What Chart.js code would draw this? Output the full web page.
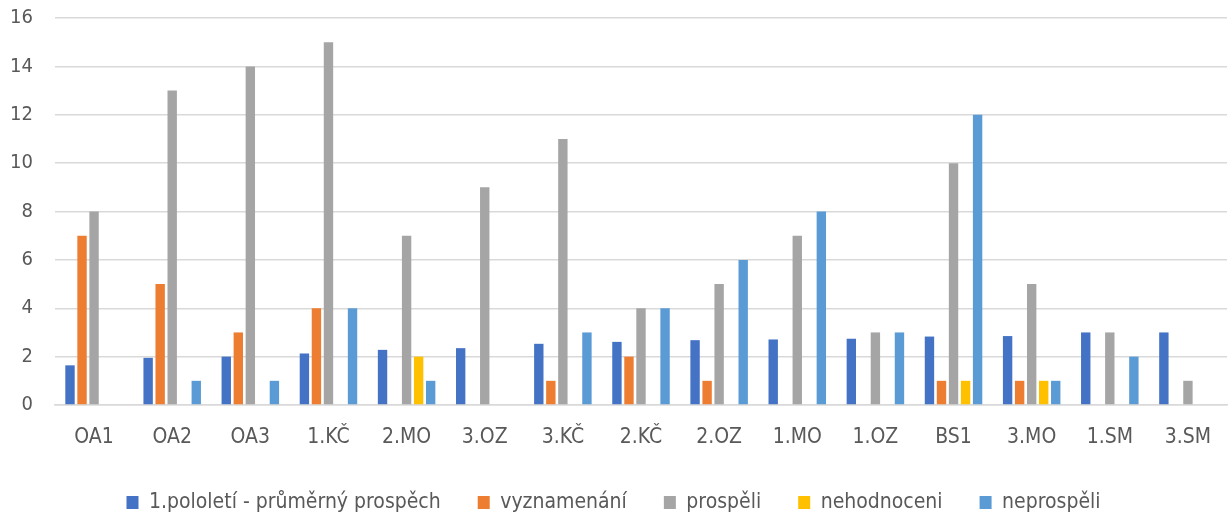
<!DOCTYPE html>
<html>
<head>
<meta charset="utf-8">
<script src="https://cdn.jsdelivr.net/npm/chart.js@4"></script>
<style>
  html, body { margin: 0; padding: 0; background: #fff; }
  #wrap { width: 1228px; height: 515px; }
</style>
</head>
<body>
<div id="wrap"><canvas id="gradesChart"></canvas></div>
<script>
const classes = ["OA1", "OA2", "OA3", "1.KČ", "2.MO", "3.OZ", "3.KČ", "2.KČ", "2.OZ", "1.MO", "1.OZ", "BS1", "3.MO", "1.SM", "3.SM"];
const averageGrade = [1.64, 1.95, 2.0, 2.13, 2.28, 2.35, 2.53, 2.61, 2.68, 2.71, 2.74, 2.83, 2.85, 3.0, 3.0];
const honours = [7, 5, 3, 4, 0, 0, 1, 2, 1, 0, 0, 1, 1, 0, 0];
const passed = [8, 13, 14, 15, 7, 9, 11, 4, 5, 7, 3, 10, 5, 3, 1];
const notGraded = [0, 0, 0, 0, 2, 0, 0, 0, 0, 0, 0, 1, 1, 0, 0];
const failed = [0, 1, 1, 4, 1, 0, 3, 4, 6, 8, 3, 12, 1, 2, 0];
const yTicks = [0, 2, 4, 6, 8, 10, 12, 14, 16];

const fontFamily = "'Liberation Sans Narrow', 'DejaVu Sans Condensed', 'Liberation Sans', sans-serif";
const textColor = "#595959";
const gridColor = "#D9D9D9";

function makeSet(label, data, color) {
    return {
        label: label,
        data: data,
        backgroundColor: color,
        borderWidth: 0,
        barPercentage: 0.78,
        categoryPercentage: 0.77
    };
}

const ctx = document.getElementById("gradesChart").getContext("2d");

new Chart(ctx, {
    type: "bar",
    data: {
        labels: classes,
        datasets: [
            makeSet("1.pololetí - průměrný prospěch", averageGrade, "#4472C4"),
            makeSet("vyznamenání", honours, "#ED7D31"),
            makeSet("prospěli", passed, "#A5A5A5"),
            makeSet("nehodnoceni", notGraded, "#FFC000"),
            makeSet("neprospěli", failed, "#5B9BD5")
        ]
    },
    options: {
        responsive: true,
        maintainAspectRatio: false,
        animation: false,
        layout: { padding: { top: 18, right: 1, left: 0, bottom: 0 } },
        plugins: {
            legend: {
                position: "bottom",
                maxHeight: 60,
                labels: {
                    color: textColor,
                    font: { family: fontFamily, size: 21 },
                    boxWidth: 12,
                    boxHeight: 13,
                    padding: 37
                }
            },
            tooltip: { enabled: false }
        },
        scales: {
            x: {
                grid: { display: false },
                border: { display: true, color: gridColor, width: 1.5 },
                ticks: {
                    color: textColor,
                    font: { family: fontFamily, size: 21 },
                    padding: 12,
                    maxRotation: 0,
                    autoSkip: false
                },
                afterFit: function (scale) { scale.height = 50; }
            },
            y: {
                min: 0,
                max: 16,
                afterBuildTicks: function (scale) {
                    scale.ticks = yTicks.map(v => ({ value: v }));
                },
                grid: { color: gridColor, lineWidth: 1.5, drawTicks: false },
                border: { display: false },
                ticks: {
                    color: textColor,
                    font: { family: fontFamily, size: 20 },
                    padding: 22
                },
                afterFit: function (scale) {
                    scale.width = 55;
                    // tick padding should not push the plot area down
                    scale.paddingTop = 0;
                    scale.paddingBottom = 0;
                }
            }
        }
    }
});
</script>
</body>
</html>
